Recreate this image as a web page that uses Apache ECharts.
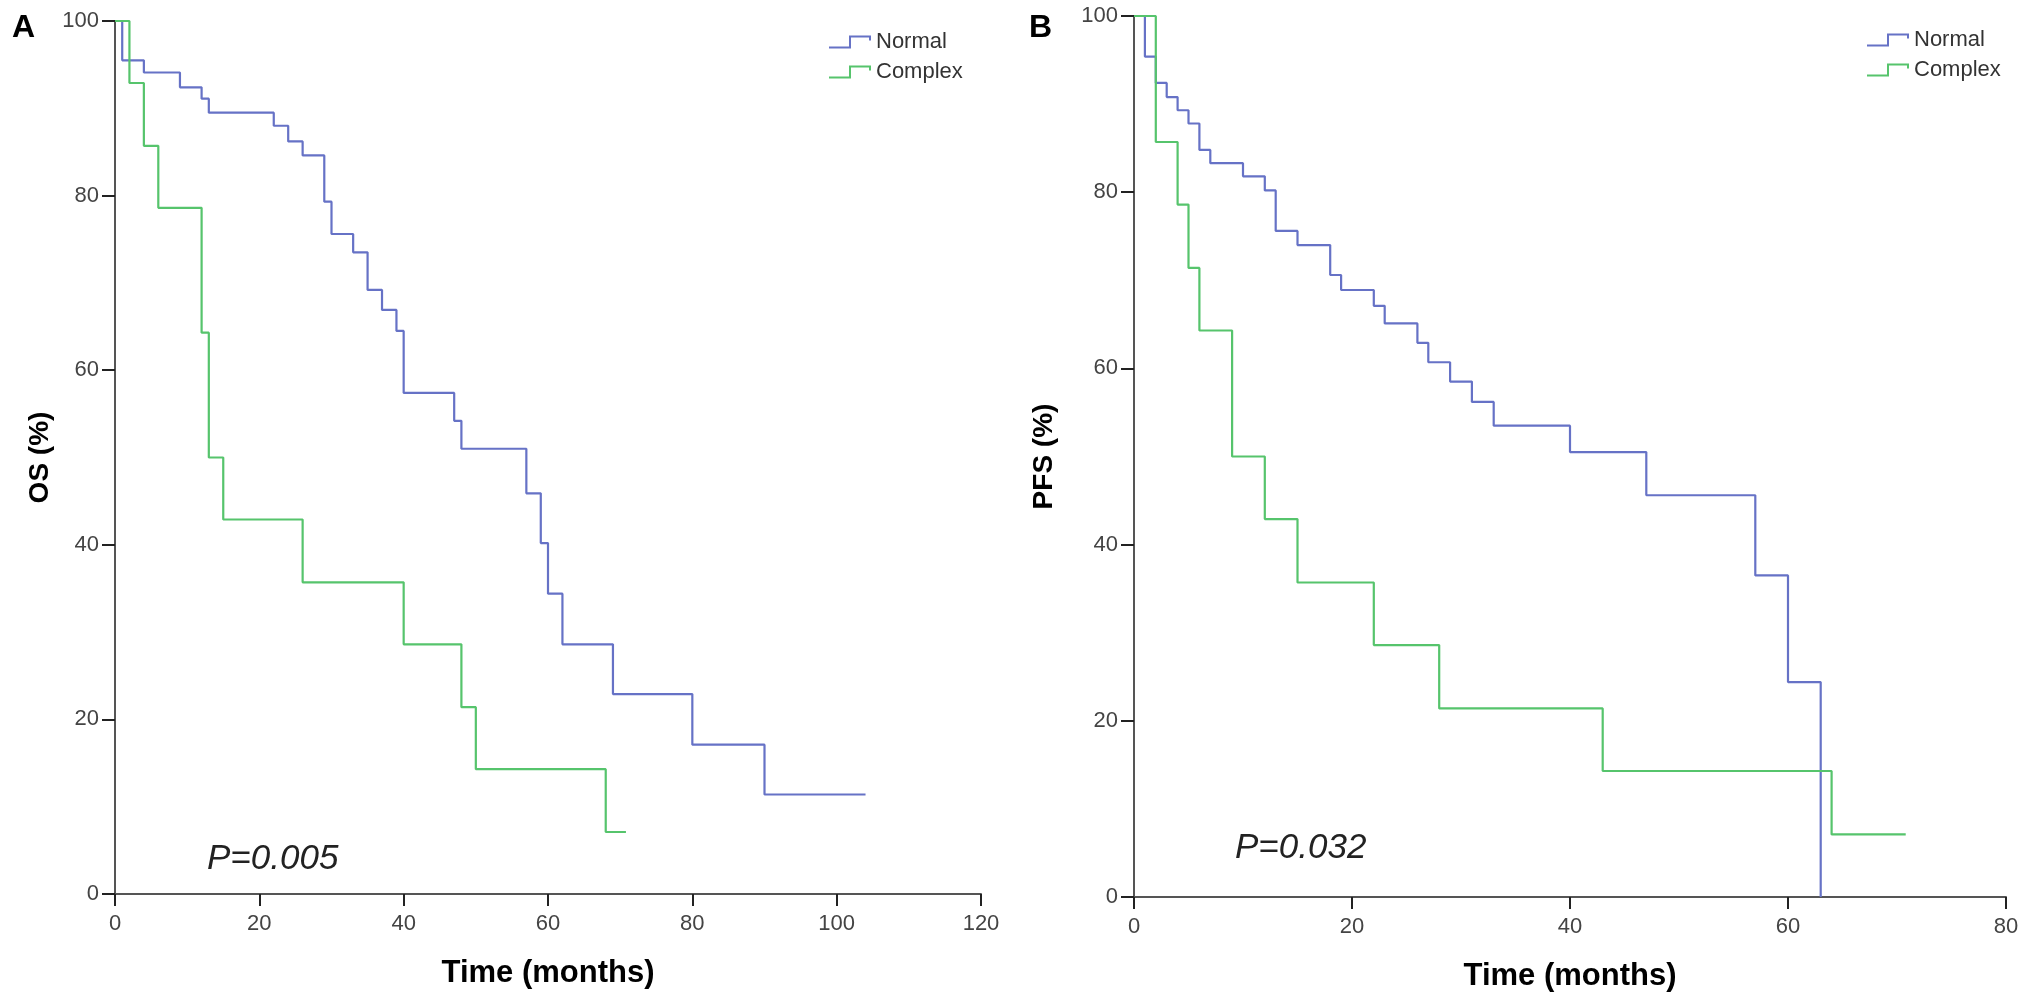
<!DOCTYPE html>
<html><head><meta charset="utf-8">
<script src="https://cdn.jsdelivr.net/npm/echarts@6/dist/echarts.min.js"></script>
<style>html,body{margin:0;padding:0;background:#fff}#c{width:2031px;height:1007px}</style>
</head><body><div id="c"></div>
<script>
// ---- Panel A: OS ----
const osNormalTime  = [0, 1, 4, 9, 12, 13, 22, 24, 26, 29, 30, 33, 35, 37, 39, 40, 47, 48, 57, 59, 60, 62, 69, 80, 90, 104];
const osNormalValue = [100, 95.5, 94.1, 92.4, 91.1, 89.5, 88.0, 86.2, 84.6, 79.3, 75.6, 73.5, 69.2, 66.9, 64.5, 57.4, 54.2, 51.0, 45.9, 40.2, 34.4, 28.6, 22.9, 17.1, 11.4, 11.4];
const osComplexTime  = [0, 2, 4, 6, 12, 13, 15, 26, 40, 48, 50, 68, 70.8];
const osComplexValue = [100, 92.9, 85.7, 78.6, 64.3, 50.0, 42.9, 35.7, 28.6, 21.4, 14.3, 7.1, 7.1];
// ---- Panel B: PFS ----
const pfsNormalTime  = [0, 1, 2, 3, 4, 5, 6, 7, 10, 12, 13, 15, 18, 19, 22, 23, 26, 27, 29, 31, 33, 40, 47, 57, 60, 63];
const pfsNormalValue = [100, 95.4, 92.4, 90.8, 89.3, 87.8, 84.8, 83.3, 81.8, 80.2, 75.6, 74.0, 70.6, 68.9, 67.1, 65.1, 62.9, 60.7, 58.5, 56.2, 53.5, 50.5, 45.6, 36.5, 24.4, 0];
const pfsComplexTime  = [0, 2, 4, 5, 6, 9, 12, 15, 22, 28, 43, 64, 70.8];
const pfsComplexValue = [100, 85.7, 78.6, 71.4, 64.3, 50.0, 42.9, 35.7, 28.6, 21.4, 14.3, 7.1, 7.1];

const groupNames = ['Normal', 'Complex'];
const panelLabels = ['A', 'B'];
const pValues = ['P=0.005', 'P=0.032'];
const yTitles = ['OS (%)', 'PFS (%)'];
const xTitle = 'Time (months)';

const BLUE = '#6672c6';
const GREEN = '#56c46c';
const FONT = 'Liberation Sans, Arial, sans-serif';
const pairs = (t, v) => t.map((x, i) => [x, v[i]]);
const ICON = 'path://M0,11 H20 V0 H42 V5 H40 V2 H22 V13 H0 Z';

function xAxisCfg(grid, max, gap) {
  return {
    type: 'value', gridIndex: grid, min: 0, max: max, interval: 20,
    name: xTitle, nameLocation: 'middle', nameGap: gap,
    nameTextStyle: { fontSize: 31, fontWeight: 'bold', color: '#000', fontFamily: FONT },
    axisLine: { show: true, lineStyle: { color: '#555', width: 2 } },
    axisTick: { show: true, length: 12, lineStyle: { color: '#222', width: 2 } },
    axisLabel: { fontSize: 22, color: '#444', margin: 19, fontFamily: FONT },
    splitLine: { show: false }
  };
}
function yAxisCfg(grid, name, gap) {
  return {
    type: 'value', gridIndex: grid, min: 0, max: 100, interval: 20,
    name: name, nameLocation: 'middle', nameGap: gap, nameRotate: 90,
    nameTextStyle: { fontSize: 28, fontWeight: 'bold', color: '#000', fontFamily: FONT },
    axisLine: { show: true, lineStyle: { color: '#555', width: 2 } },
    axisTick: { show: true, length: 13, lineStyle: { color: '#222', width: 2 } },
    axisLabel: { fontSize: 22, color: '#444', margin: 16, fontFamily: FONT },
    splitLine: { show: false }
  };
}
function stepSeries(name, color, xi, data) {
  return {
    name: name, type: 'line', step: 'end', xAxisIndex: xi, yAxisIndex: xi,
    data: data, symbol: 'none', showSymbol: false, color: color,
    lineStyle: { color: color, width: 2.2 }, animation: false, clip: false
  };
}
function legendCfg(left, top) {
  return {
    data: groupNames, left: left, top: top, orient: 'vertical',
    icon: ICON, itemWidth: 42, itemHeight: 13, itemGap: 8,
    itemStyle: { borderWidth: 0 },
    textStyle: { fontSize: 22, color: '#333', fontFamily: FONT },
    selectedMode: false
  };
}

const chart = echarts.init(document.getElementById('c'), null, { renderer: 'canvas' });
chart.setOption({
  backgroundColor: '#fff',
  animation: false,
  textStyle: { fontFamily: FONT },
  grid: [
    { left: 115, top: 21, width: 866, height: 873 },
    { left: 1134, top: 16, width: 872, height: 881 }
  ],
  xAxis: [xAxisCfg(0, 120, 64), xAxisCfg(1, 80, 64)],
  yAxis: [yAxisCfg(0, yTitles[0], 61), yAxisCfg(1, yTitles[1], 76)],
  legend: [legendCfg(824, 26), legendCfg(1862, 24)],
  series: [
    stepSeries(groupNames[0], BLUE, 0, pairs(osNormalTime, osNormalValue)),
    stepSeries(groupNames[1], GREEN, 0, pairs(osComplexTime, osComplexValue)),
    stepSeries(groupNames[0], BLUE, 1, pairs(pfsNormalTime, pfsNormalValue)),
    stepSeries(groupNames[1], GREEN, 1, pairs(pfsComplexTime, pfsComplexValue))
  ],
  graphic: [
    { type: 'text', x: 12, y: 28, style: { text: panelLabels[0], font: 'bold 32px ' + FONT, fill: '#000', textVerticalAlign: 'middle' } },
    { type: 'text', x: 1029, y: 28, style: { text: panelLabels[1], font: 'bold 32px ' + FONT, fill: '#000', textVerticalAlign: 'middle' } },
    { type: 'text', x: 207, y: 859, style: { text: pValues[0], font: 'italic 35px ' + FONT, fill: '#222', textVerticalAlign: 'middle' } },
    { type: 'text', x: 1235, y: 848, style: { text: pValues[1], font: 'italic 35px ' + FONT, fill: '#222', textVerticalAlign: 'middle' } }
  ]
});
</script>
</body></html>
